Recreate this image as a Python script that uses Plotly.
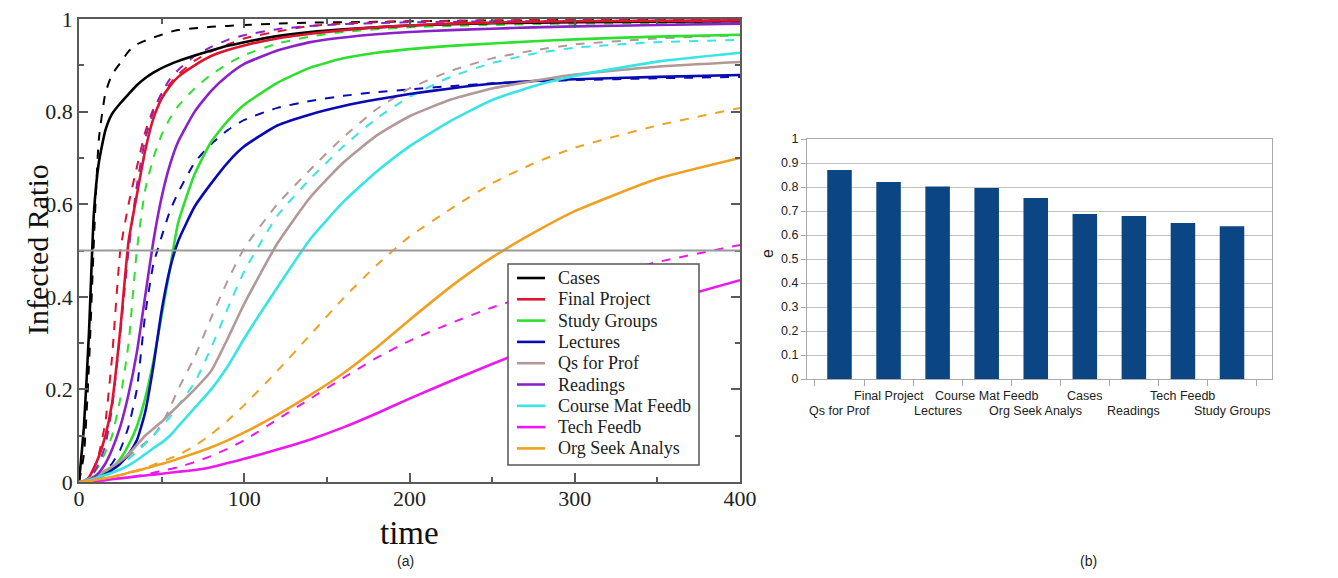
import plotly.graph_objects as go

# ---------------- data: left panel (time grid and infected ratios) -------------
time = [0, 3, 6, 9, 12, 16, 20, 25, 30, 35, 40, 45, 50, 55, 60, 70, 80, 90, 100,
        120, 140, 160, 180, 200, 225, 250, 275, 300, 350, 400]

series_names = ["Cases", "Final Project", "Study Groups", "Lectures", "Qs for Prof",
                "Readings", "Course Mat Feedb", "Tech Feedb", "Org Seek Analys"]
series_colors = ["#000000", "#dc1430", "#2ee02e", "#0a0ab4", "#b39898",
                 "#8a22c8", "#38e4e4", "#ee18ee", "#f0a020"]

cases_solid = [0, 0.12, 0.32, 0.58, 0.69, 0.76, 0.795, 0.818, 0.838, 0.857, 0.872, 0.884, 0.894, 0.902,
               0.909, 0.921, 0.932, 0.942, 0.95, 0.963, 0.972, 0.978, 0.982, 0.986, 0.989, 0.991,
               0.992, 0.993, 0.994, 0.995]
cases_dashed = [0, 0.06, 0.25, 0.52, 0.74, 0.84, 0.88, 0.905, 0.93, 0.945, 0.953, 0.96, 0.966, 0.972,
                0.976, 0.98, 0.983, 0.985, 0.987, 0.99, 0.992, 0.993, 0.994, 0.995, 0.996, 0.997,
                0.997, 0.998, 0.998, 0.998]
final_solid = [0, 0.002, 0.01, 0.03, 0.055, 0.1, 0.17, 0.33, 0.52, 0.62, 0.715, 0.785, 0.828, 0.855,
               0.875, 0.9, 0.92, 0.933, 0.943, 0.958, 0.968, 0.976, 0.982, 0.986, 0.99, 0.992,
               0.994, 0.995, 0.996, 0.997]
final_dashed = [0, 0.002, 0.01, 0.03, 0.06, 0.13, 0.27, 0.5, 0.6, 0.68, 0.755, 0.805, 0.838, 0.86,
                0.88, 0.91, 0.93, 0.945, 0.958, 0.973, 0.985, 0.99, 0.993, 0.995, 0.996, 0.997,
                0.998, 0.998, 0.998, 0.998]
study_solid = [0, 0.001, 0.003, 0.007, 0.012, 0.02, 0.03, 0.05, 0.08, 0.12, 0.18, 0.26, 0.36, 0.46,
               0.56, 0.665, 0.735, 0.78, 0.815, 0.862, 0.895, 0.915, 0.927, 0.935, 0.942, 0.947,
               0.952, 0.956, 0.962, 0.966]
study_dashed = [0, 0.002, 0.008, 0.02, 0.035, 0.065, 0.1, 0.18, 0.3, 0.5, 0.63, 0.7, 0.75, 0.785,
                0.812, 0.85, 0.88, 0.903, 0.922, 0.947, 0.962, 0.972, 0.978, 0.982, 0.985, 0.987,
                0.989, 0.99, 0.991, 0.992]
lectures_solid = [0, 0.001, 0.003, 0.006, 0.01, 0.017, 0.026, 0.04, 0.06, 0.09, 0.15, 0.25, 0.37,
                  0.46, 0.52, 0.595, 0.645, 0.69, 0.725, 0.77, 0.794, 0.812, 0.826, 0.838, 0.85, 0.86,
                  0.866, 0.87, 0.875, 0.879]
lectures_dashed = [0, 0.001, 0.004, 0.008, 0.014, 0.025, 0.04, 0.07, 0.12, 0.2, 0.36, 0.47, 0.53,
                   0.585, 0.625, 0.69, 0.73, 0.76, 0.782, 0.808, 0.823, 0.834, 0.842, 0.848, 0.855,
                   0.861, 0.865, 0.868, 0.872, 0.875]
qs_solid = [0, 0.003, 0.007, 0.012, 0.017, 0.025, 0.033, 0.045, 0.06, 0.08, 0.1, 0.115, 0.13, 0.148,
            0.165, 0.2, 0.24, 0.31, 0.385, 0.515, 0.615, 0.69, 0.748, 0.79, 0.826, 0.85, 0.866,
            0.88, 0.897, 0.907]
qs_dashed = [0, 0.003, 0.006, 0.01, 0.015, 0.021, 0.028, 0.04, 0.055, 0.07, 0.085, 0.1, 0.125, 0.16,
             0.2, 0.27, 0.355, 0.435, 0.505, 0.6, 0.675, 0.745, 0.805, 0.85, 0.888, 0.915, 0.932,
             0.945, 0.958, 0.965]
readings_solid = [0, 0.001, 0.004, 0.01, 0.02, 0.04, 0.07, 0.12, 0.19, 0.28, 0.4, 0.52, 0.615, 0.685,
                  0.735, 0.8, 0.845, 0.878, 0.903, 0.932, 0.95, 0.96, 0.967, 0.972, 0.976, 0.979,
                  0.982, 0.984, 0.987, 0.99]
readings_dashed = [0, 0.002, 0.008, 0.02, 0.04, 0.08, 0.16, 0.32, 0.5, 0.64, 0.74, 0.8, 0.84, 0.87,
                   0.89, 0.92, 0.94, 0.955, 0.965, 0.978, 0.985, 0.989, 0.991, 0.993, 0.994, 0.995,
                   0.995, 0.996, 0.996, 0.996]
course_solid = [0, 0.002, 0.004, 0.007, 0.011, 0.015, 0.02, 0.027, 0.036, 0.047, 0.06, 0.073, 0.085,
                0.1, 0.12, 0.16, 0.2, 0.25, 0.31, 0.42, 0.525, 0.605, 0.67, 0.725, 0.78, 0.825,
                0.855, 0.877, 0.908, 0.927]
course_dashed = [0, 0.002, 0.005, 0.009, 0.014, 0.02, 0.027, 0.037, 0.05, 0.065, 0.082, 0.1, 0.12,
                 0.14, 0.165, 0.215, 0.29, 0.375, 0.455, 0.575, 0.655, 0.725, 0.785, 0.832, 0.875,
                 0.905, 0.925, 0.938, 0.95, 0.955]
tech_solid = [0, 0.0005, 0.001, 0.002, 0.003, 0.004, 0.006, 0.008, 0.01, 0.012, 0.014, 0.016, 0.018,
              0.02, 0.022, 0.026, 0.032, 0.041, 0.05, 0.07, 0.092, 0.118, 0.148, 0.18, 0.218,
              0.255, 0.29, 0.322, 0.385, 0.436]
tech_dashed = [0, 0.0005, 0.001, 0.002, 0.003, 0.004, 0.006, 0.008, 0.01, 0.013, 0.016, 0.02, 0.024,
               0.028, 0.032, 0.043, 0.056, 0.072, 0.09, 0.135, 0.18, 0.225, 0.268, 0.305, 0.343,
               0.377, 0.405, 0.43, 0.475, 0.512]
org_solid = [0, 0.001, 0.002, 0.004, 0.006, 0.008, 0.011, 0.015, 0.02, 0.024, 0.029, 0.034, 0.039,
             0.044, 0.05, 0.062, 0.075, 0.09, 0.107, 0.145, 0.188, 0.235, 0.29, 0.35, 0.422, 0.485,
             0.538, 0.585, 0.655, 0.70]
org_dashed = [0, 0.001, 0.002, 0.004, 0.006, 0.008, 0.011, 0.015, 0.02, 0.025, 0.031, 0.037, 0.044,
              0.051, 0.058, 0.078, 0.103, 0.133, 0.166, 0.24, 0.318, 0.397, 0.468, 0.53, 0.59, 0.645,
              0.688, 0.722, 0.77, 0.808]

solid_series = [cases_solid, final_solid, study_solid, lectures_solid, qs_solid,
                readings_solid, course_solid, tech_solid, org_solid]
dashed_series = [cases_dashed, final_dashed, study_dashed, lectures_dashed, qs_dashed,
                 readings_dashed, course_dashed, tech_dashed, org_dashed]

threshold = 0.5
x_ticks = [0, 100, 200, 300, 400]
y_ticks = [0, 0.2, 0.4, 0.6, 0.8, 1]
y_ticklabels = ["0", "0.2", "0.4", "0.6", "0.8", "1"]

# ---------------- data: right panel -------------
bar_categories = ["Qs for Prof", "Final Project", "Lectures", "Course Mat Feedb",
                  "Org Seek Analys", "Cases", "Readings", "Tech Feedb", "Study Groups"]
bar_values = [0.871, 0.821, 0.802, 0.796, 0.754, 0.687, 0.679, 0.650, 0.636]
bar_yticks = [0, 0.1, 0.2, 0.3, 0.4, 0.5, 0.6, 0.7, 0.8, 0.9, 1]
bar_yticklabels = ["0", "0.1", "0.2", "0.3", "0.4", "0.5", "0.6", "0.7", "0.8", "0.9", "1"]

# ---------------- figure -------------
# the page body has an 8px margin, so the figure is placed 8px in from the window edge
OFF = 8
W, H = 1322, 562
fig = go.Figure()

for vals, col in zip(dashed_series, series_colors):
    fig.add_trace(go.Scatter(x=time, y=vals, mode="lines", showlegend=False,
                             line=dict(color=col, width=2, dash="dash", shape="spline", smoothing=0.5),
                             xaxis="x", yaxis="y"))
for name, vals, col in zip(series_names, solid_series, series_colors):
    fig.add_trace(go.Scatter(x=time, y=vals, mode="lines", name=name, showlegend=False,
                             line=dict(color=col, width=2.6, shape="spline", smoothing=0.5),
                             xaxis="x", yaxis="y"))

fig.add_trace(go.Bar(x=bar_categories, y=bar_values, marker=dict(color="#0b4584", line=dict(width=0)),
                     showlegend=False, xaxis="x2", yaxis="y2"))


def px_x(p):
    return (p - OFF) / W


def px_y(p):
    return (H - (p - OFF)) / H


serif = "Liberation Serif"
sans = "Liberation Sans"
axcol = "#5a5a5a"

shapes = [dict(type="line", xref="x", yref="y", x0=0, x1=400, y0=threshold, y1=threshold,
               line=dict(color="#999999", width=2))]


def label(text, x, y, size, family, angle=0, color="#222"):
    return dict(text=text, x=px_x(x), y=px_y(y), xref="paper", yref="paper",
                xanchor="center", yanchor="middle", textangle=angle, showarrow=False,
                font=dict(family=family, size=size, color=color))


annotations = [
    label("Infected Ratio", 38, 250, 30, serif, -90, "#111"),
    label("time", 410, 533, 33, serif, 0, "#111"),
    label("(a)", 405, 561, 14, sans),
    label("(b)", 1088, 561, 14, sans),
    label("e", 767, 253, 16, sans, -90),
]
for i, cat in enumerate(bar_categories):
    ypix = 411 if i % 2 == 0 else 396
    annotations.append(dict(text=cat, x=cat, xref="x2", y=px_y(ypix), yref="paper",
                            xanchor="center", yanchor="middle",
                            showarrow=False, font=dict(family=sans, size=12.5, color="#222")))

# legend box (drawn in paper space)
leg_left, leg_top, leg_right, leg_bottom = 508, 264, 699, 465
shapes.append(dict(type="rect", xref="paper", yref="paper", x0=px_x(leg_left), x1=px_x(leg_right),
                   y0=px_y(leg_bottom), y1=px_y(leg_top), fillcolor="white",
                   line=dict(color="#555555", width=1.5), layer="above"))
for i, (name, col) in enumerate(zip(series_names, series_colors)):
    yy = 278 + 21.3 * i
    shapes.append(dict(type="line", xref="paper", yref="paper", x0=px_x(517), x1=px_x(545),
                       y0=px_y(yy), y1=px_y(yy), line=dict(color=col, width=2.6), layer="above"))
    annotations.append(dict(text=name, x=px_x(556), y=px_y(yy), xref="paper", yref="paper",
                            xanchor="left", yanchor="middle", showarrow=False,
                            font=dict(family=serif, size=18, color="#222")))

fig.update_layout(
    template="none",
    width=W, height=H, autosize=False,
    margin=dict(l=0, r=0, t=0, b=0, autoexpand=False),
    paper_bgcolor="white", plot_bgcolor="white",
    showlegend=False,
    xaxis=dict(domain=[px_x(79), px_x(740)], range=[0, 400], tickvals=x_ticks, automargin=False,
               ticks="inside", ticklen=9, tickwidth=1.5, tickcolor=axcol,
               showline=True, linecolor=axcol, linewidth=1.5, mirror="ticks",
               showgrid=False, zeroline=False, ticklabeloverflow="allow", ticklabelstandoff=-4,
               minor=dict(dtick=50, ticks="inside", ticklen=5, tickcolor=axcol, showgrid=False),
               tickfont=dict(family=serif, size=22, color="#222"), anchor="y"),
    yaxis=dict(domain=[px_y(482), px_y(19)], range=[0, 1], tickvals=y_ticks, automargin=False,
               ticktext=y_ticklabels, ticklabeloverflow="allow",
               ticks="inside", ticklen=9, tickwidth=1.5, tickcolor=axcol,
               showline=True, linecolor=axcol, linewidth=1.5, mirror="ticks",
               showgrid=False, zeroline=False,
               minor=dict(dtick=0.1, ticks="inside", ticklen=5, tickcolor=axcol, showgrid=False),
               tickfont=dict(family=serif, size=22, color="#222"), anchor="x"),
    xaxis2=dict(domain=[px_x(807), px_x(1272)], anchor="y2", showticklabels=False, automargin=False,
                ticks="outside", tickson="boundaries", ticklen=6, tickcolor="#aaaaaa",
                showline=True, linecolor="#aaaaaa", linewidth=1, mirror=True, showgrid=False),
    yaxis2=dict(domain=[px_y(379), px_y(139)], anchor="x2", range=[0, 1], automargin=False,
                tickvals=bar_yticks, ticktext=bar_yticklabels,
                ticks="outside", ticklen=5, tickcolor="#aaaaaa",
                showline=True, linecolor="#aaaaaa", linewidth=1, mirror=True,
                showgrid=True, gridcolor="#c4c4c4", gridwidth=1, zeroline=False,
                tickfont=dict(family=sans, size=12.5, color="#222")),
    bargap=0.5,
    shapes=shapes,
    annotations=annotations,
)

fig.write_html("out.html")
